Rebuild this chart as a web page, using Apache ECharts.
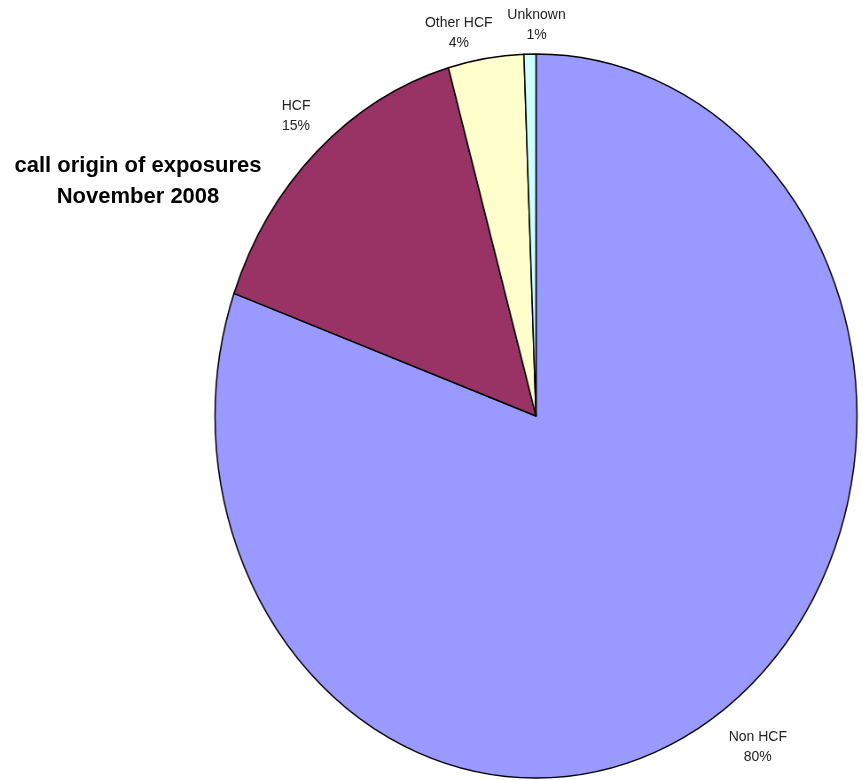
<!DOCTYPE html>
<html>
<head>
<meta charset="utf-8">
<script src="https://cdn.jsdelivr.net/npm/echarts@6/dist/echarts.min.js"></script>
<style>
html,body{margin:0;padding:0;background:#fff;width:863px;height:780px;overflow:hidden;}
#pie{position:absolute;left:0;top:0;height:780px;transform-origin:0 0;}
#over{position:absolute;left:0;top:0;width:863px;height:780px;}
</style>
</head>
<body>
<div id="pie"></div>
<div id="over"></div>
<script>
const categories = ['Non HCF', 'HCF', 'Other HCF', 'Unknown'];
const values = [80.5, 15.1, 3.8, 0.6];
const colors = ['#9999FF', '#993366', '#FFFFCC', '#CCFFFF'];
const titleLines = ['call origin of exposures', 'November 2008'];

// ellipse geometry (display pixels) and label styling
const CX = 536, CY = 416, RX = 321, RY = 362;
const SX = RX / RY;
const GAP = 14;
const LABEL_NUDGE = [[0, 4], [3, -5], [9, 9], [36, 5]];

const pieDiv = document.getElementById('pie');
pieDiv.style.width = (863 / SX) + 'px';
pieDiv.style.transform = 'scaleX(' + SX + ')';

const chart1 = echarts.init(pieDiv, null, { renderer: 'canvas' });
chart1.setOption({
  animation: false,
  series: [{
    type: 'pie',
    center: [CX / SX, CY],
    radius: RY,
    startAngle: 90,
    clockwise: true,
    data: categories.map((c, i) => ({ name: c, value: values[i], itemStyle: { color: colors[i] } })),
    label: { show: false },
    labelLine: { show: false },
    itemStyle: { borderColor: '#000', borderWidth: 1.5 }
  }]
});

const total = values.reduce((a, b) => a + b, 0);
const mids = [];
let cum = 0;
values.forEach(v => { mids.push((90 - 360 * (cum + v / 2) / total) * Math.PI / 180); cum += v; });

const chart2 = echarts.init(document.getElementById('over'), null, { renderer: 'canvas' });
chart2.setOption({
  animation: false,
  title: {
    text: titleLines.join('\n'),
    left: 133, top: 145, textAlign: 'center',
    textStyle: { fontFamily: 'Liberation Sans, Arial, sans-serif', fontSize: 22, fontWeight: 'bold', color: '#000', lineHeight: 31 }
  },
  series: [{
    type: 'pie',
    center: [CX, CY],
    radius: RX,
    startAngle: 90,
    clockwise: true,
    silent: true,
    data: categories.map((c, i) => ({ name: c, value: values[i] })),
    itemStyle: { color: 'rgba(0,0,0,0)', borderWidth: 0 },
    percentPrecision: 0,
    label: {
      show: true, position: 'outside',
      formatter: '{b}\n{d}%',
      fontFamily: 'Liberation Sans, Arial, sans-serif', fontSize: 14, lineHeight: 20,
      color: '#222', align: 'center'
    },
    labelLine: { show: false },
    labelLayout: function (p) {
      const t = mids[p.dataIndex];
      const c = Math.cos(t), s = Math.sin(t);
      const w = p.labelRect.width, h = p.labelRect.height;
      const n = LABEL_NUDGE[p.dataIndex];
      return {
        x: CX + (RX + GAP) * c + Math.sign(c) * w / 2 + n[0],
        y: CY - (RY + GAP) * s - Math.sign(s) * h / 2 + n[1],
        align: 'center', verticalAlign: 'middle'
      };
    }
  }]
});
</script>
</body>
</html>
